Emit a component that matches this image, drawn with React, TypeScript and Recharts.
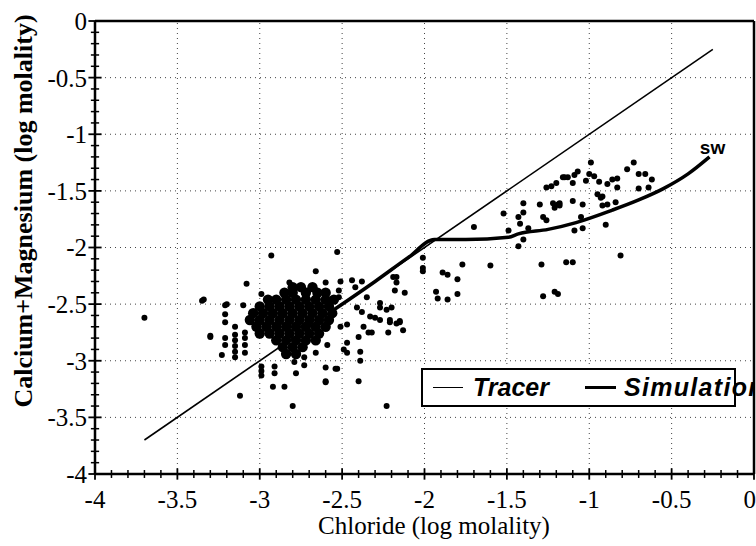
import { ComposedChart, Scatter, Line, XAxis, YAxis, ReferenceLine } from 'recharts';

// scattered water samples [chloride, Ca+Mg], log molality
const samplePairs: [number, number][] = [
  [-0.99, -1.25], [-0.73, -1.25], [-0.77, -1.31], [-1.0, -1.35], [-0.97, -1.37], [-1.07, -1.33],
  [-1.09, -1.36], [-1.15, -1.38], [-1.1, -1.43], [-1.02, -1.41], [-0.94, -1.42], [-0.89, -1.44],
  [-0.86, -1.4], [-0.83, -1.39], [-0.7, -1.35], [-0.66, -1.35], [-0.62, -1.4], [-0.83, -1.47],
  [-0.7, -1.48], [-0.64, -1.47], [-1.18, -1.61], [-1.1, -1.59], [-1.04, -1.62], [-0.95, -1.53],
  [-0.93, -1.56], [-0.92, -1.55], [-0.92, -1.63], [-0.89, -1.62], [-0.84, -1.6], [-1.05, -1.73],
  [-1.09, -1.85], [-1.04, -1.83], [-0.9, -1.8], [-0.81, -2.07],
  [-1.26, -1.47], [-1.23, -1.46], [-1.2, -1.43], [-1.16, -1.38], [-1.13, -1.38],
  [-1.3, -1.62], [-1.22, -1.61], [-1.19, -1.62], [-1.21, -1.65], [-1.18, -1.63], [-1.4, -1.61],
  [-1.52, -1.7], [-1.4, -1.69], [-1.43, -1.73], [-1.28, -1.73], [-1.26, -1.76], [-1.42, -1.79],
  [-1.7, -1.82], [-1.49, -1.85], [-1.37, -1.83], [-1.4, -1.93], [-1.43, -1.99],
  [-2.01, -2.09], [-1.77, -2.15], [-1.6, -2.16], [-1.29, -2.15], [-1.14, -2.13], [-1.1, -2.13],
  [-2.01, -2.21], [-1.89, -2.22], [-1.86, -2.24], [-1.8, -2.28], [-2.12, -2.4], [-1.93, -2.39],
  [-1.92, -2.45], [-1.86, -2.46], [-1.8, -2.41], [-1.28, -2.43], [-1.21, -2.39], [-1.19, -2.41],
  [-2.15, -2.65], [-2.01, -2.18], [-2.17, -2.26],
  [-3.7, -2.62], [-3.35, -2.47], [-3.2, -2.5], [-3.3, -2.79], [-3.12, -3.31], [-3.08, -2.32],
  [-2.99, -2.41], [-2.8, -3.4], [-2.92, -3.23], [-2.85, -3.23], [-2.6, -3.18], [-2.4, -3.18],
  [-2.54, -3.07], [-2.6, -3.06], [-2.66, -2.21], [-2.82, -2.31], [-2.93, -2.07], [-2.53, -2.04],
  [-3.34, -2.46], [-3.21, -2.51], [-3.1, -2.51], [-3.21, -2.59], [-3.21, -2.66], [-3.15, -2.7],
  [-3.3, -2.78], [-3.21, -2.8], [-3.21, -2.86], [-3.23, -2.95],
  [-3.15, -2.77], [-3.15, -2.82], [-3.15, -2.87], [-3.15, -2.92], [-3.15, -2.97],
  [-3.09, -2.75], [-3.09, -2.8], [-3.09, -2.86], [-3.09, -2.93],
  [-2.99, -3.05], [-2.99, -3.09], [-2.99, -3.13], [-2.91, -3.05], [-2.91, -3.11],
  [-2.79, -3.01], [-2.78, -3.11], [-2.73, -2.97], [-2.73, -3.04], [-2.53, -3.07], [-2.6, -3.19],
  [-2.39, -3.0], [-2.23, -3.4], [-2.66, -2.93], [-2.59, -2.86], [-2.49, -2.9], [-2.47, -2.93],
  [-2.39, -2.92], [-2.47, -2.84], [-2.4, -2.79], [-2.34, -2.75], [-2.32, -2.75], [-2.22, -2.75],
  [-2.21, -2.66], [-2.15, -2.66], [-2.13, -2.73], [-2.51, -2.7], [-2.47, -2.68],
  [-2.6, -2.31], [-2.51, -2.3], [-2.44, -2.29], [-2.38, -2.3], [-2.42, -2.35], [-2.52, -2.38],
  [-2.52, -2.44], [-2.35, -2.44], [-2.19, -2.26], [-2.17, -2.31], [-2.18, -2.38], [-2.27, -2.49],
  [-2.23, -2.55], [-2.27, -2.53], [-2.2, -2.53], [-2.33, -2.61], [-2.3, -2.62], [-2.27, -2.64],
  [-2.21, -2.64], [-2.37, -2.7], [-2.17, -2.67], [-2.41, -2.53], [-2.38, -2.57],
];

// dense core of the sample cloud
const corePairs: [number, number][] = [
  [-2.8, -2.35], [-2.75, -2.35], [-2.68, -2.35],
  [-2.85, -2.4], [-2.8, -2.4], [-2.72, -2.4], [-2.65, -2.4], [-2.6, -2.4],
  [-2.95, -2.46], [-2.9, -2.46], [-2.84, -2.46], [-2.78, -2.46], [-2.72, -2.46], [-2.66, -2.46], [-2.6, -2.46], [-2.55, -2.46],
  [-3.0, -2.52], [-2.94, -2.52], [-2.88, -2.52], [-2.82, -2.52], [-2.76, -2.52], [-2.7, -2.52], [-2.64, -2.52], [-2.58, -2.52],
  [-3.04, -2.58], [-2.98, -2.58], [-2.92, -2.58], [-2.86, -2.58], [-2.8, -2.58], [-2.74, -2.58], [-2.68, -2.58], [-2.62, -2.58], [-2.56, -2.58],
  [-3.06, -2.64], [-3.0, -2.64], [-2.94, -2.64], [-2.88, -2.64], [-2.82, -2.64], [-2.76, -2.64], [-2.7, -2.64], [-2.64, -2.64], [-2.58, -2.64],
  [-3.02, -2.7], [-2.96, -2.7], [-2.9, -2.7], [-2.84, -2.7], [-2.78, -2.7], [-2.72, -2.7], [-2.66, -2.7], [-2.6, -2.7],
  [-3.0, -2.76], [-2.94, -2.76], [-2.88, -2.76], [-2.82, -2.76], [-2.76, -2.76], [-2.7, -2.76], [-2.64, -2.76],
  [-2.9, -2.82], [-2.84, -2.82], [-2.78, -2.82], [-2.72, -2.82], [-2.66, -2.82],
  [-2.86, -2.88], [-2.8, -2.88], [-2.74, -2.88],
  [-2.84, -2.94], [-2.78, -2.94],
];

const tracerPairs: [number, number][] = [[-3.7, -3.7], [-0.25, -0.25]];

const simulationPairs: [number, number][] = [
  [-2.55, -2.55], [-2.3, -2.3], [-2.1, -2.09], [-1.94, -1.93], [-1.75, -1.93], [-1.49, -1.91],
  [-1.43, -1.88], [-1.25, -1.84], [-1.08, -1.78], [-0.86, -1.67], [-0.7, -1.58], [-0.55, -1.48],
  [-0.4, -1.35], [-0.27, -1.2],
];

const majorTicks = [-4, -3.5, -3, -2.5, -2, -1.5, -1, -0.5, 0];
const gridTicks = [-3.5, -3, -2.5, -2, -1.5, -1, -0.5];
const minorTicks = [
  -3.9, -3.8, -3.7, -3.6, -3.4, -3.3, -3.2, -3.1, -2.9, -2.8, -2.7, -2.6, -2.4, -2.3, -2.2, -2.1,
  -1.9, -1.8, -1.7, -1.6, -1.4, -1.3, -1.2, -1.1, -0.9, -0.8, -0.7, -0.6, -0.4, -0.3, -0.2, -0.1,
];

const toPts = (arr: [number, number][]) => arr.map(([x, y]) => ({ x, y }));
const samples = toPts(samplePairs);
const core = toPts(corePairs);
const tracer = toPts(tracerPairs);
const simulation = toPts(simulationPairs);

const serif = '"Liberation Serif", Tinos, "Times New Roman", Times, "DejaVu Serif", serif';
const sans = '"Liberation Sans", Arimo, Arial, sans-serif';

const smallDot = (p: any) => <circle cx={p.cx} cy={p.cy} r={3} fill="#000" />;
const bigDot = (p: any) => <circle cx={p.cx} cy={p.cy} r={5.2} fill="#000" />;

export default function App() {
  const last = simulation.length - 1;
  return (
    <div style={{ position: 'relative', width: 756, height: 546, background: '#fff' }}>
      <style>{'body{margin:0}'}</style>
      <ComposedChart width={756} height={546} margin={{ top: 21, right: 2, bottom: 0, left: 0 }}>
        <XAxis
          type="number"
          dataKey="x"
          domain={[-4, 0]}
          ticks={majorTicks}
          allowDataOverflow
          height={72}
          tickLine={false}
          tickMargin={10}
          axisLine={{ stroke: '#000', strokeWidth: 2.5 }}
          tick={{ fill: '#000', fontSize: 25, fontFamily: serif }}
        />
        <YAxis
          type="number"
          dataKey="y"
          domain={[-4, 0]}
          ticks={majorTicks}
          allowDataOverflow
          width={95}
          tickLine={false}
          axisLine={{ stroke: '#000', strokeWidth: 2.5 }}
          tick={{ fill: '#000', fontSize: 25, fontFamily: serif }}
        />
        {gridTicks.map((v) => (
          <ReferenceLine key={'gx' + v} x={v} stroke="#444" strokeWidth={1} strokeDasharray="1 4" />
        ))}
        {gridTicks.map((v) => (
          <ReferenceLine key={'gy' + v} y={v} stroke="#444" strokeWidth={1} strokeDasharray="1 4" />
        ))}
        <ReferenceLine y={0} stroke="#000" strokeWidth={2.5} />
        <ReferenceLine x={0} stroke="#000" strokeWidth={2.5} />
        {minorTicks.map((v) => (
          <ReferenceLine key={'mx' + v} ifOverflow="visible" stroke="#000" strokeWidth={1.5}
            segment={[{ x: v, y: -4.035 }, { x: v, y: -3.965 }]} />
        ))}
        {minorTicks.map((v) => (
          <ReferenceLine key={'my' + v} ifOverflow="visible" stroke="#000" strokeWidth={1.5}
            segment={[{ x: -4.025, y: v }, { x: -3.975, y: v }]} />
        ))}
        {majorTicks.map((v) => (
          <ReferenceLine key={'Mx' + v} ifOverflow="visible" stroke="#000" strokeWidth={1.8}
            segment={[{ x: v, y: -4.05 }, { x: v, y: -3.95 }]} />
        ))}
        {majorTicks.map((v) => (
          <ReferenceLine key={'My' + v} ifOverflow="visible" stroke="#000" strokeWidth={1.8}
            segment={[{ x: -4.04, y: v }, { x: -3.96, y: v }]} />
        ))}
        <Scatter data={core} dataKey="y" shape={bigDot} isAnimationActive={false} />
        <Scatter data={samples} dataKey="y" shape={smallDot} isAnimationActive={false} />
        <Line data={tracer} dataKey="y" type="linear" stroke="#000" strokeWidth={1.6} dot={false} isAnimationActive={false} />
        <Line
          data={simulation}
          dataKey="y"
          type="monotone"
          stroke="#000"
          strokeWidth={3.5}
          dot={false}
          isAnimationActive={false}
          label={(p: any) =>
            p.index === last ? (
              <text key="sw" x={p.x + 3} y={p.y - 3} fontFamily={sans} fontWeight="bold" fontSize={19} textAnchor="middle">sw</text>
            ) : null
          }
        />
      </ComposedChart>

      {/* axis titles */}
      <div style={{
        position: 'absolute', left: 24, top: 211, transform: 'translate(-50%, -50%) rotate(-90deg)',
        whiteSpace: 'nowrap', fontFamily: serif, fontWeight: 'bold', fontSize: 26, lineHeight: '30px',
      }}>
        Calcium+Magnesium (log molality)
      </div>
      <div style={{
        position: 'absolute', left: 434, top: 526, transform: 'translate(-50%, -50%)',
        whiteSpace: 'nowrap', fontFamily: serif, fontSize: 25, lineHeight: '28px',
      }}>
        Chloride (log molality)
      </div>

      {/* legend, clipped by the plot frame like the original */}
      <div style={{ position: 'absolute', left: 421, top: 368, width: 333, height: 41, overflow: 'hidden' }}>
        <div style={{
          position: 'relative', width: 311, height: 35, border: '2px solid #000', background: '#fff',
          fontFamily: sans, fontWeight: 'bold', fontStyle: 'italic', fontSize: 25, whiteSpace: 'nowrap',
        }}>
          <span style={{ position: 'absolute', left: 10, top: 17, width: 30, borderTop: '1.5px solid #000' }} />
          <span style={{ position: 'absolute', left: 50, top: 2, lineHeight: '30px' }}>Tracer</span>
          <span style={{ position: 'absolute', left: 162, top: 16, width: 31, borderTop: '3px solid #000' }} />
          <span style={{ position: 'absolute', left: 201, top: 2, lineHeight: '30px', letterSpacing: 1.3 }}>Simulation</span>
        </div>
      </div>
    </div>
  );
}
